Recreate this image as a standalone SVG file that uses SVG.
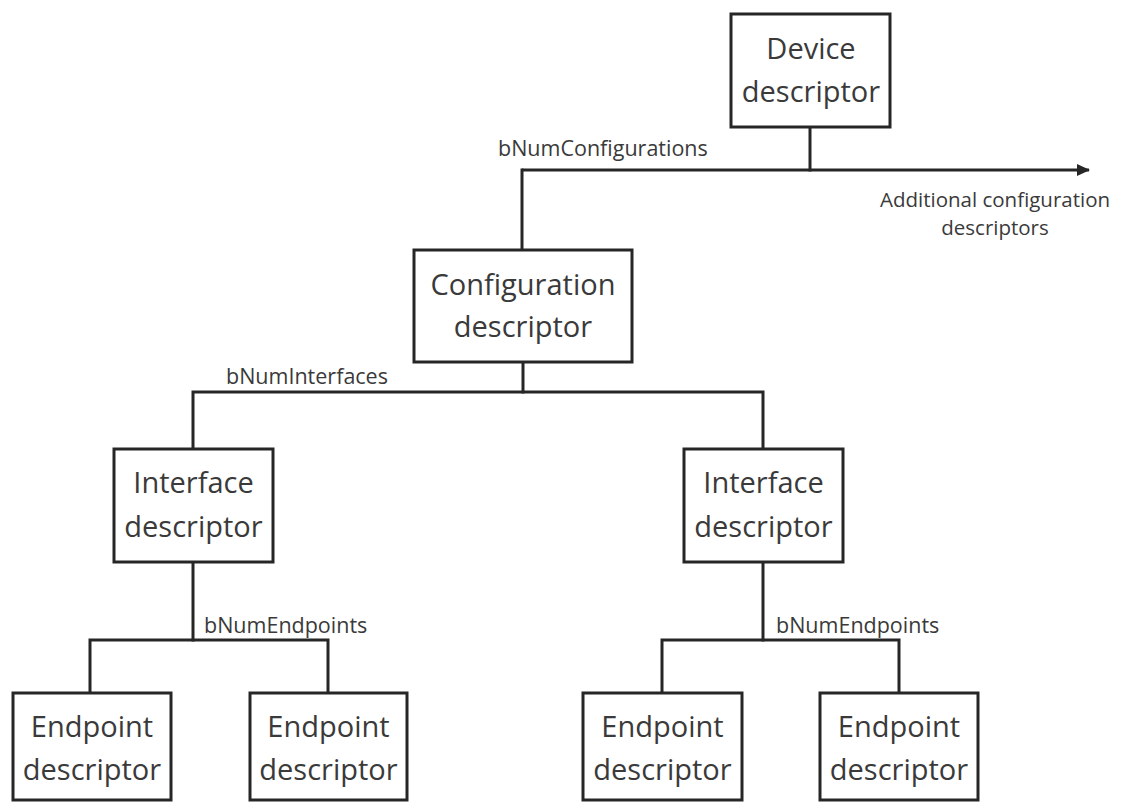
<svg xmlns="http://www.w3.org/2000/svg" width="1139" height="802" viewBox="0 0 1139 802">
  <style>
    .box { fill: #ffffff; stroke: #262626; stroke-width: 3; }
    .wire { fill: none; stroke: #262626; stroke-width: 3; stroke-linecap: square; }
    .name { font-family: "Open Sans", "Noto Sans", sans-serif; font-size: 29px; fill: #3a3a3a; text-anchor: middle; }
    .lbl { font-family: "Open Sans", "Noto Sans", sans-serif; font-size: 21.5px; fill: #3a3a3a; }
    .note { font-family: "Open Sans", "Noto Sans", sans-serif; font-size: 20.5px; fill: #3a3a3a; text-anchor: middle; }
  </style>
  <defs>
    <marker id="arrow" markerWidth="13" markerHeight="13" refX="12" refY="6.5" orient="auto" markerUnits="userSpaceOnUse">
      <path d="M0,0.5 L13,6.5 L0,12.5 Z" fill="#262626"/>
    </marker>
  </defs>
  <rect width="1139" height="802" fill="#ffffff"/>

  <!-- connectors -->
  <g id="connectors">
    <line class="wire" x1="810" y1="127" x2="810" y2="170"/>
    <line class="wire" x1="522" y1="170" x2="1089" y2="170" marker-end="url(#arrow)" style="stroke-linecap:butt"/>
    <line class="wire" x1="522" y1="170" x2="522" y2="250"/>
    <line class="wire" x1="523" y1="362" x2="523" y2="392"/>
    <polyline class="wire" points="193,449 193,392 763,392 763,449"/>
    <line class="wire" x1="193" y1="562" x2="193" y2="640"/>
    <polyline class="wire" points="90,693 90,640 328,640 328,693"/>
    <line class="wire" x1="763" y1="562" x2="763" y2="640"/>
    <polyline class="wire" points="662,693 662,640 899,640 899,693"/>
    <text class="lbl" x="498" y="156">bNumConfigurations</text>
    <text class="note" x="995" y="207">Additional configuration</text>
    <text class="note" x="995" y="235">descriptors</text>
    <text class="lbl" x="226" y="384">bNumInterfaces</text>
    <text class="lbl" x="204" y="633">bNumEndpoints</text>
    <text class="lbl" x="776" y="633">bNumEndpoints</text>
  </g>

  <g id="device">
    <rect class="box" x="731" y="14" width="159" height="113"/>
    <text class="name" x="811" y="59">Device</text>
    <text class="name" x="811" y="102">descriptor</text>
  </g>

  <g id="configuration">
    <rect class="box" x="414" y="250" width="218" height="112"/>
    <text class="name" x="523" y="295">Configuration</text>
    <text class="name" x="523" y="337">descriptor</text>
  </g>

  <g id="interface-left">
    <rect class="box" x="114" y="449" width="159" height="113"/>
    <text class="name" x="193.5" y="493">Interface</text>
    <text class="name" x="193.5" y="537">descriptor</text>
  </g>

  <g id="interface-right">
    <rect class="box" x="684" y="449" width="159" height="113"/>
    <text class="name" x="763.5" y="493">Interface</text>
    <text class="name" x="763.5" y="537">descriptor</text>
  </g>

  <g id="endpoint-1">
    <rect class="box" x="13" y="693" width="158" height="107"/>
    <text class="name" x="92" y="737">Endpoint</text>
    <text class="name" x="92" y="780">descriptor</text>
  </g>

  <g id="endpoint-2">
    <rect class="box" x="250" y="693" width="157" height="107"/>
    <text class="name" x="328.5" y="737">Endpoint</text>
    <text class="name" x="328.5" y="780">descriptor</text>
  </g>

  <g id="endpoint-3">
    <rect class="box" x="583" y="693" width="159" height="107"/>
    <text class="name" x="662.5" y="737">Endpoint</text>
    <text class="name" x="662.5" y="780">descriptor</text>
  </g>

  <g id="endpoint-4">
    <rect class="box" x="820" y="693" width="158" height="107"/>
    <text class="name" x="899" y="737">Endpoint</text>
    <text class="name" x="899" y="780">descriptor</text>
  </g>
</svg>
